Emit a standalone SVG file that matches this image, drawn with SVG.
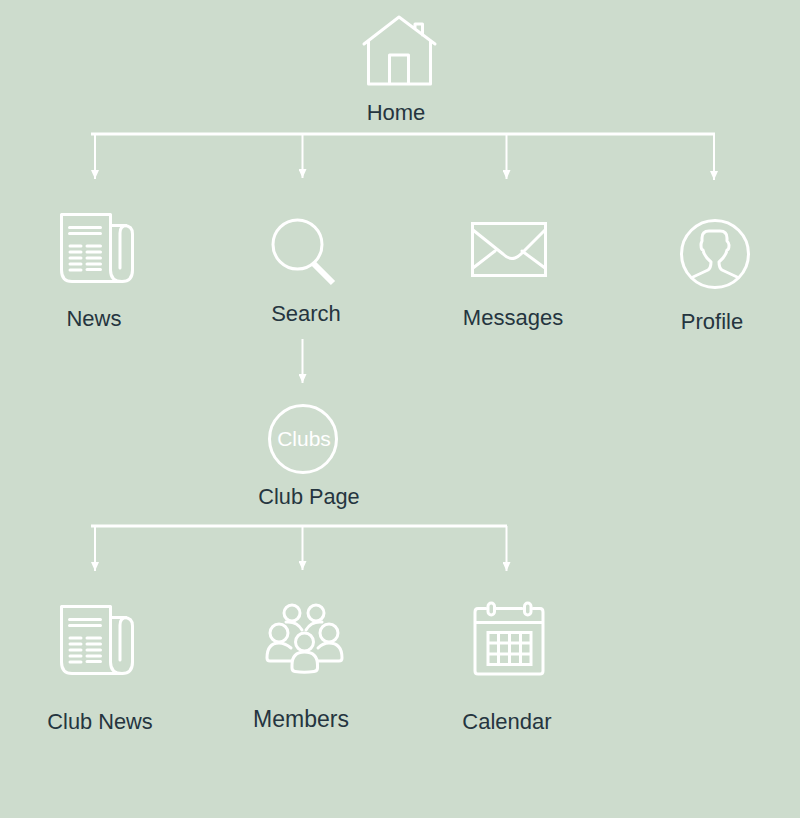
<svg xmlns="http://www.w3.org/2000/svg" width="800" height="818" viewBox="0 0 800 818">
<defs>
<style>
.t{font-family:"Liberation Sans",Arial,sans-serif;font-size:22px;fill:#25353f;text-anchor:middle}
.i{fill:none;stroke:#fff;stroke-width:3;stroke-linejoin:round;stroke-linecap:round}
.l{fill:none;stroke:#fff;stroke-width:2}
.b{fill:none;stroke:#fff;stroke-width:3}
</style>
<marker id="a" markerUnits="userSpaceOnUse" markerWidth="9" markerHeight="8" refX="9" refY="4" orient="auto" viewBox="0 0 9 8"><path d="M0 0L9 4L0 8Z" fill="#fff"/></marker>
<g id="paper"><path class="i" d="M61.500 214.500H110.500V270Q110.500 281.500 122 281.500H72Q61.500 281.500 61.500 270Z"/><path class="i" d="M110.500 225.500H124Q132.500 225.500 132.500 234V270Q132.500 281.500 122 281.500"/><path class="i" d="M120 268V233Q120 226 126 225.500"/><path class="i" d="M69.500 227.500H100.500M69.500 233.500H100.500M70 246H81M87 246H100.500M70 252H81M87 252H100.500M70 258H81M87 258H100.500M70 264H81M87 264H100.500M70 270H81M87 269.500H100.500"/></g>
</defs>
<rect width="800" height="818" fill="#cddccd"/>
<g id="connectors">
<path class="b" d="M91 134H715"/>
<path class="l" marker-end="url(#a)" d="M95 134V179"/>
<path class="l" marker-end="url(#a)" d="M302.500 134V178"/>
<path class="l" marker-end="url(#a)" d="M506.500 134V179"/>
<path class="l" marker-end="url(#a)" d="M714 134V180"/>
<path class="l" marker-end="url(#a)" d="M302.500 339V383"/>
<path class="b" d="M91 526H507"/>
<path class="l" marker-end="url(#a)" d="M95 526V571"/>
<path class="l" marker-end="url(#a)" d="M302.500 526V570"/>
<path class="l" marker-end="url(#a)" d="M506.500 526V571"/>
</g>
<g id="home">
<path class="i" d="M364 44L399 17L435 44M368.500 41V84H430.500V41M389.500 84V55H408.500V84M415 28V24H422.500V35"/>
<text class="t" x="396" y="120">Home</text>
</g>
<g id="news"><use href="#paper"/><text class="t" x="94" y="326">News</text></g>
<g id="search">
<circle class="i" cx="297.500" cy="244.500" r="24.500"/>
<path d="M313 263L333 283" fill="none" stroke="#fff" stroke-width="6"/>
<text class="t" x="306" y="321">Search</text>
</g>
<g id="messages">
<rect class="b" x="472.500" y="223.500" width="73" height="52"/>
<path class="i" d="M473 230L503 254Q509 260 515 258Q518 257 521 254L545 230M495 251L473 268M522 251L545 268"/>
<text class="t" x="513" y="325">Messages</text>
</g>
<g id="profile">
<circle class="i" cx="715" cy="254" r="33.500"/>
<path class="i" d="M693 277L708 270Q711 268 711 262Q704 256 703 250Q701 250 701 245Q701 243 702 241V238Q702 231 709 231H720Q727 231 727 238V241Q729 243 729 245Q729 250 727 250Q726 256 719 262Q719 268 722 270L737 277"/>
<text class="t" x="712" y="329">Profile</text>
</g>
<g id="clubs">
<circle class="i" cx="303" cy="439" r="33.500"/>
<text x="304" y="445.500" font-family="'Liberation Sans',Arial,sans-serif" font-size="21" fill="#fff" text-anchor="middle">Clubs</text>
<text class="t" x="309" y="504" style="font-size:21.700px">Club Page</text>
</g>
<g id="club-news"><use href="#paper" y="392"/><text class="t" x="100" y="729" style="font-size:21.800px">Club News</text></g>
<g id="members">
<circle class="i" cx="292" cy="613" r="8"/><circle class="i" cx="316" cy="613" r="8"/>
<path class="i" d="M286 622Q297 621 302 630M322 622Q311 621 306 630"/>
<circle class="i" cx="279" cy="633" r="9"/><circle class="i" cx="329" cy="633" r="9"/><circle class="i" cx="304.500" cy="642" r="9"/>
<path class="i" d="M291 661H270Q267 661 267 658Q267 643 279 643Q285 643 291 648M318 661H339Q342 661 342 658Q342 643 329 643Q323 643 318 648"/>
<path class="i" d="M292 668V665Q292 652 304.500 652Q317.500 652 317.500 665V668Q317.500 671 314 671.500Q304 673 295 671.500Q292 671 292 668Z"/>
<text class="t" x="301" y="727" style="font-size:23px">Members</text>
</g>
<g id="calendar">
<path class="i" d="M486 608.500H478Q475 608.500 475 612V671Q475 674 478 674H540Q543 674 543 671V612Q543 608.500 540 608.500H533M496 608.500H522M475 622.500H543"/>
<rect class="i" x="488" y="603" width="6.500" height="12" rx="3.200"/><rect class="i" x="524.500" y="603" width="6.500" height="12" rx="3.200"/>
<rect class="i" x="488" y="632.500" width="43" height="32" style="stroke-linejoin:miter"/>
<path class="i" style="stroke-linecap:butt" d="M498.500 633V664M509.500 633V664M520.500 633V664M488 643H531M488 654H531"/>
<text class="t" x="507" y="729">Calendar</text>
</g>
</svg>
